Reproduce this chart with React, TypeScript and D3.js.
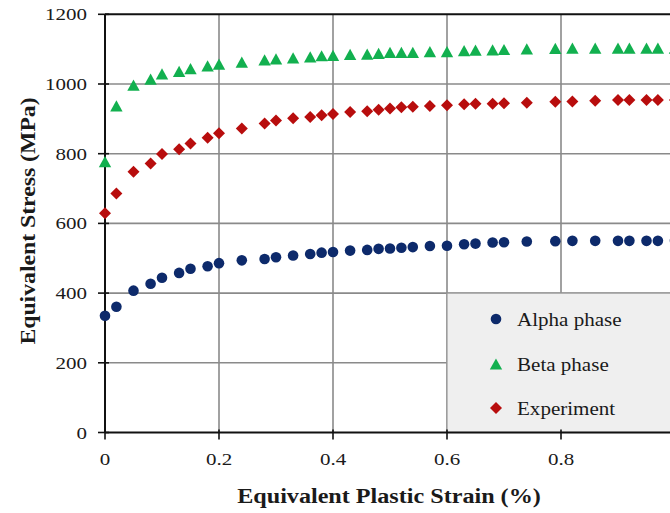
import React from "react";
import * as d3 from "d3";

// Equivalent plastic strain (%) sampled for all three series
const strain = [
  0, 0.02, 0.05, 0.08, 0.1, 0.13, 0.15, 0.18, 0.2, 0.24, 0.28, 0.3, 0.33, 0.36,
  0.38, 0.4, 0.43, 0.46, 0.48, 0.5, 0.52, 0.54, 0.57, 0.6, 0.63, 0.65, 0.68,
  0.7, 0.74, 0.79, 0.82, 0.86, 0.9, 0.92, 0.95, 0.97, 1.0,
];

// Equivalent stress (MPa)
const alphaPhase = [
  335, 361, 407, 427, 444, 458, 470, 477, 486, 494, 498, 503, 508, 512, 516,
  518, 522, 524, 527, 528, 530, 532, 535, 536, 540, 542, 545, 546, 548, 549,
  550, 550, 550, 550, 550, 550, 551,
];
const betaPhase = [
  777, 937, 997, 1014, 1029, 1036, 1044, 1052, 1057, 1063, 1069, 1072, 1075,
  1078, 1081, 1082, 1085, 1086, 1088, 1091, 1091, 1091, 1093, 1093, 1096, 1097,
  1098, 1099, 1101, 1102, 1103, 1103, 1103, 1103, 1103, 1103, 1103,
];
const experiment = [
  629, 686, 748, 772, 799, 813, 829, 846, 859, 872, 887, 895, 902, 905, 910,
  914, 920, 922, 926, 930, 933, 935, 937, 939, 942, 943, 943, 945, 946, 949,
  950, 952, 954, 954, 954, 954, 954,
];

const xTicks = [0, 0.2, 0.4, 0.6, 0.8, 1.0];
const yTicks = [0, 200, 400, 600, 800, 1000, 1200];
const legendLabels = ["Alpha phase", "Beta phase", "Experiment"];

const W = 670;
const H = 513;
const FONT = "'Liberation Serif', 'Times New Roman', serif";
const INK = "#1a1a1a";

const x = d3.scaleLinear().domain([0, 1]).range([105, 675]);
const y = d3.scaleLinear().domain([0, 1200]).range([432.5, 14.3]);

const COLORS = { alpha: "#0d2a6b", beta: "#12b04f", exp: "#b80d0d" };

function Marker({ kind, cx, cy }: { kind: string; cx: number; cy: number }) {
  if (kind === "alpha") {
    return <circle cx={cx} cy={cy} r={5.3} fill={COLORS.alpha} />;
  }
  if (kind === "beta") {
    const w = 6.2;
    const h = 5.6;
    return (
      <path
        d={`M${cx},${cy - h}L${cx + w},${cy + h}L${cx - w},${cy + h}Z`}
        fill={COLORS.beta}
      />
    );
  }
  const s = 6;
  return (
    <path
      d={`M${cx},${cy - s}L${cx + s},${cy}L${cx},${cy + s}L${cx - s},${cy}Z`}
      fill={COLORS.exp}
    />
  );
}

function Label({
  x0,
  y0,
  text,
  size,
  anchor = "start",
  bold = false,
  stretch = 1.15,
  rotate = 0,
}: {
  x0: number;
  y0: number;
  text: string;
  size: number;
  anchor?: string;
  bold?: boolean;
  stretch?: number;
  rotate?: number;
}) {
  return (
    <text
      transform={`translate(${x0},${y0}) rotate(${rotate}) scale(${stretch},1)`}
      textAnchor={anchor}
      fontFamily={FONT}
      fontSize={size}
      fontWeight={bold ? "bold" : "normal"}
      fill={INK}
    >
      {text}
    </text>
  );
}

export default function App() {
  const series = [
    { kind: "alpha", values: alphaPhase },
    { kind: "beta", values: betaPhase },
    { kind: "exp", values: experiment },
  ];
  const legendX = x(0.6);
  const legendTop = y(400);
  const legendRows = [319, 364, 408];

  return (
    <div style={{ position: "absolute", left: 0, top: 0 }}>
      <svg width={W} height={H} style={{ display: "block", background: "#fff" }}>
        {/* grid */}
        {xTicks
          .filter((t) => t > 0)
          .map((t) => (
            <line
              key={`gx${t}`}
              x1={x(t)}
              x2={x(t)}
              y1={y(1200)}
              y2={y(0)}
              stroke="#8a8a8a"
              strokeWidth={1.6}
            />
          ))}
        {yTicks
          .filter((t) => t > 0 && t < 1200)
          .map((t) => (
            <line
              key={`gy${t}`}
              x1={x(0)}
              x2={W}
              y1={y(t)}
              y2={y(t)}
              stroke="#8a8a8a"
              strokeWidth={1.6}
            />
          ))}

        {/* legend panel */}
        <rect
          x={legendX}
          y={legendTop}
          width={W - legendX + 10}
          height={y(0) - legendTop}
          fill="#efefef"
          stroke="#9a9a9a"
          strokeWidth={1.2}
        />
        {series.map((s, i) => (
          <g key={`lg${s.kind}`}>
            <Marker kind={s.kind} cx={496} cy={legendRows[i]} />
            <text
              transform={`translate(517,${legendRows[i] + 6.5}) scale(1.08,1)`}
              fontFamily={FONT}
              fontSize={19.5}
              fill={INK}
            >
              {legendLabels[i]}
            </text>
          </g>
        ))}

        {/* axes */}
        <line x1={x(0)} x2={W} y1={y(1200)} y2={y(1200)} stroke="#111" strokeWidth={2} />
        <line x1={x(0)} x2={W} y1={y(0)} y2={y(0)} stroke="#111" strokeWidth={2} />
        <line x1={x(0)} x2={x(0)} y1={y(1200)} y2={y(0)} stroke="#111" strokeWidth={2} />
        {yTicks.map((t) => (
          <g key={`ty${t}`}>
            <line x1={x(0) - 7} x2={x(0) + 4} y1={y(t)} y2={y(t)} stroke="#111" strokeWidth={1.6} />
            <Label x0={87} y0={y(t) + 6} text={String(t)} size={17.5} anchor="end" stretch={1.2} />
          </g>
        ))}
        {xTicks.map((t) => (
          <g key={`tx${t}`}>
            <line x1={x(t)} x2={x(t)} y1={y(0) - 3} y2={y(0) + 7} stroke="#111" strokeWidth={1.6} />
            <Label x0={x(t)} y0={465} text={String(t)} size={17.5} anchor="middle" stretch={1.2} />
          </g>
        ))}

        {/* data */}
        {series.map((s) =>
          s.values.map((v, i) => (
            <Marker key={`${s.kind}${i}`} kind={s.kind} cx={x(strain[i])} cy={y(v)} />
          ))
        )}

        {/* titles */}
        <Label
          x0={389}
          y0={503}
          text="Equivalent Plastic Strain (%)"
          size={21}
          anchor="middle"
          bold
          stretch={1.15}
        />
        <Label
          x0={35}
          y0={221}
          text="Equivalent Stress (MPa)"
          size={21}
          anchor="middle"
          bold
          stretch={1.13}
          rotate={-90}
        />
      </svg>
    </div>
  );
}
